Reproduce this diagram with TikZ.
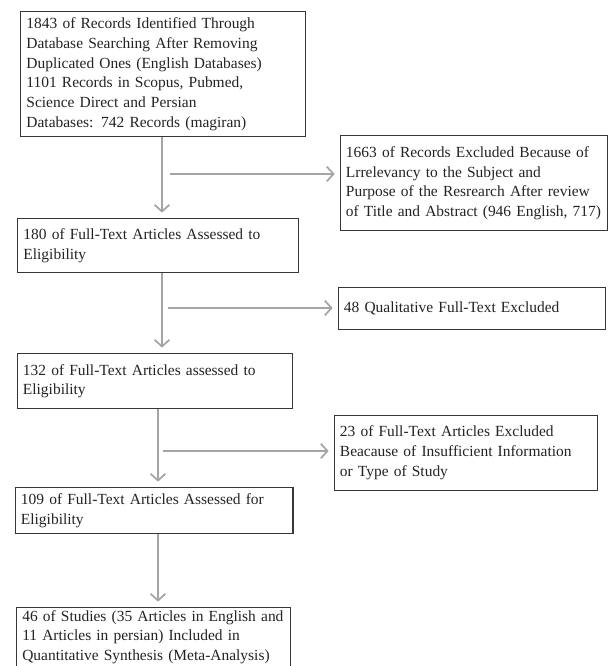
\documentclass[tikz,border=0pt]{standalone}
\usepackage{xcolor}
\usepackage{fontspec}
\setmainfont{Liberation Serif}
\usetikzlibrary{arrows.meta}

\definecolor{boxline}{RGB}{55,55,55}
\definecolor{flowgray}{RGB}{165,165,165}
\definecolor{boxtext}{RGB}{35,35,35}

\tikzset{
  procbox/.style={draw=boxline, line width=0.9pt, anchor=north west, align=left,
    inner xsep=4pt, inner ysep=2pt, text=boxtext,
    font=\fontsize{11.6}{14.8}\selectfont},
  flow/.style={draw=flowgray, line width=1.5pt, shorten >=4pt,
    -{Straight Barb[length=5pt,width=11pt,line width=1.3pt]}}
}

\begin{document}
\begin{tikzpicture}[x=0.75pt,y=0.75pt,yscale=-1,xscale=1]
\useasboundingbox (0,0) rectangle (608,666);

%Flowchart: Process
\node[procbox, minimum width=213.75pt, minimum height=93.75pt, text width=205pt] (recs) at (20,11)
  {1843 of Records Identified Through\\ Database Searching After Removing\\ Duplicated Ones (English Databases)\\ 1101 Records in Scopus, Pubmed,\\ Science Direct and Persian\\ Databases: 742 Records (magiran)};
%Flowchart: Process
\node[procbox, minimum width=200pt, minimum height=71.25pt, text width=192pt] (excl1) at (340,135)
  {1663 of Records Excluded Because of\\ Lrrelevancy to the Subject and\\ Purpose of the Resrearch After review\\ of Title and Abstract (946 English, 717)};
%Flowchart: Process
\node[procbox, minimum width=210.75pt, minimum height=40.5pt, text width=202pt] (full180) at (17,218)
  {180 of Full-Text Articles Assessed to\\ Eligibility};
%Flowchart: Process
\node[procbox, minimum width=200pt, minimum height=31.5pt, text width=192pt] (excl2) at (338,287)
  {48 Qualitative Full-Text Excluded};
%Flowchart: Process
\node[procbox, minimum width=206pt, minimum height=41.25pt, text width=198pt] (full132) at (17,353)
  {132 of Full-Text Articles assessed to\\ Eligibility};
%Flowchart: Process
\node[procbox, minimum width=197pt, minimum height=56pt, text width=189pt] (excl3) at (334,415)
  {23 of Full-Text Articles Excluded\\ Beacause of Insufficient Information\\ or Type of Study};
%Flowchart: Process
\node[procbox, minimum width=208pt, minimum height=34.5pt, text width=200pt] (full109) at (15,487)
  {109 of Full-Text Articles Assessed for\\ Eligibility};
%Flowchart: Process
\node[procbox, minimum width=205.5pt, minimum height=43pt, text width=197pt] (incl46) at (16,607)
  {46 of Studies (35 Articles in English and\\ 11 Articles in persian) Included in\\ Quantitative Synthesis (Meta-Analysis)};

%spine of the flow
\coordinate (spineA) at (162,0);
\coordinate (spineB) at (158,0);
\coordinate (j1) at (170,174);
\coordinate (j2) at (168,308);
\coordinate (j3) at (163,451);

%Straight Lines
\draw[flow] (recs.south -| spineA) -- (full180.north -| spineA);
\draw[flow] (full180.south -| spineA) -- (full132.north -| spineA);
\draw[flow] (full132.south -| spineB) -- (full109.north -| spineB);
\draw[flow] (full109.south -| spineB) -- (incl46.north -| spineB);
%Straight Lines
\draw[flow] (j1) -- (j1 -| excl1.west);
\draw[flow] (j2) -- (j2 -| excl2.west);
\draw[flow] (j3) -- (j3 -| excl3.west);

\end{tikzpicture}
\end{document}
